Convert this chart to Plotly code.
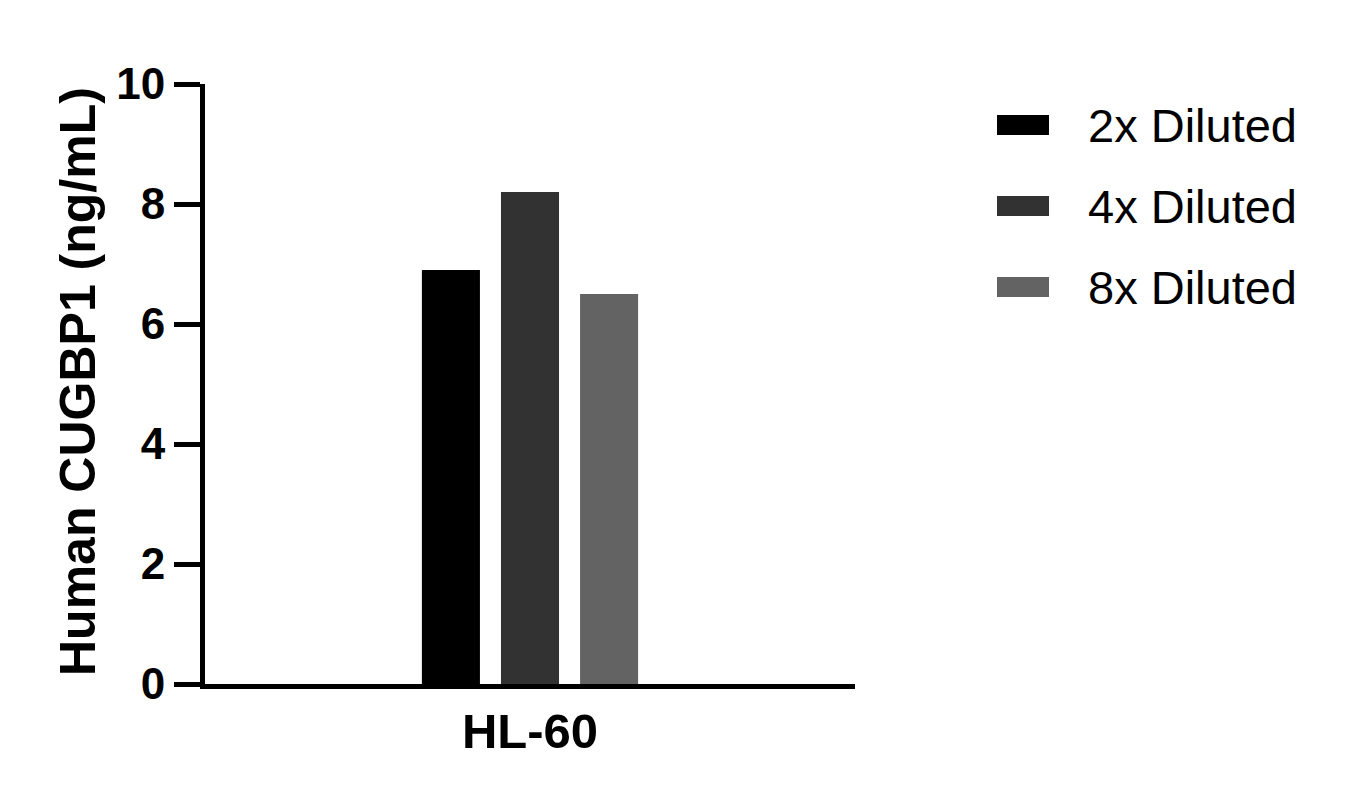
import plotly.graph_objects as go

# chart values
categories = ["HL-60"]
series_names = ["2x Diluted", "4x Diluted", "8x Diluted"]
series_values = [[6.9], [8.2], [6.5]]
series_colors = ["#000000", "#323232", "#636363"]
y_ticks = [0, 2, 4, 6, 8, 10]

FONT = "Liberation Sans, Arial, sans-serif"

# page has an 8px body margin, so work in page pixels and shift
OFF = 8
L, R, T, B = 205 - OFF, 855 - OFF, 84 - OFF, 684 - OFF


def px_x(x):
    return (x - OFF - L) / (R - L)


def px_y(y):
    return (B - (y - OFF)) / (B - T)


def main():
    fig = go.Figure()
    for name, vals, col in zip(series_names, series_values, series_colors):
        fig.add_trace(go.Bar(x=categories, y=vals, name=name,
                             marker=dict(color=col, line=dict(width=0)),
                             showlegend=False))

    # legend drawn as boxes + text to get the wide swatches
    row_y = [125, 206, 287]
    for name, col, yy in zip(series_names, series_colors, row_y):
        fig.add_shape(type="rect", xref="paper", yref="paper",
                      x0=px_x(997), x1=px_x(1049),
                      y0=px_y(yy + 10), y1=px_y(yy - 10),
                      fillcolor=col, line_width=0)
        fig.add_annotation(xref="paper", yref="paper", x=px_x(1086), y=px_y(yy),
                           text=name, showarrow=False, xanchor="left", yanchor="middle",
                           font=dict(family=FONT, size=47, color="black"))

    fig.add_annotation(xref="paper", yref="paper", x=px_x(78), y=px_y(382),
                       text="Human CUGBP1 (ng/mL)", textangle=-90, showarrow=False,
                       xanchor="center", yanchor="middle",
                       font=dict(family=FONT, size=50, color="black", weight="bold"))

    fig.update_layout(
        width=1346, height=804,
        margin=dict(l=L, r=1346 - R, t=T, b=804 - B),
        paper_bgcolor="white", plot_bgcolor="white",
        barmode="group", bargap=0.635, bargroupgap=0.266,
        font=dict(family=FONT, color="black"),
    )
    fig.update_xaxes(type="category", range=[-0.5, 0.5],
                     showline=True, linewidth=5, linecolor="black",
                     ticks="", showgrid=False, zeroline=False,
                     tickfont=dict(family=FONT, size=49, color="black", weight="bold"))
    fig.update_yaxes(range=[0, 10], tickvals=y_ticks,
                     showline=True, linewidth=5, linecolor="black",
                     ticks="outside", ticklen=26, tickwidth=5, tickcolor="black",
                     showgrid=False, zeroline=False,
                     tickfont=dict(family=FONT, size=44, color="black", weight="bold"))

    fig.write_html("out.html")


if __name__ == "__main__":
    main()
